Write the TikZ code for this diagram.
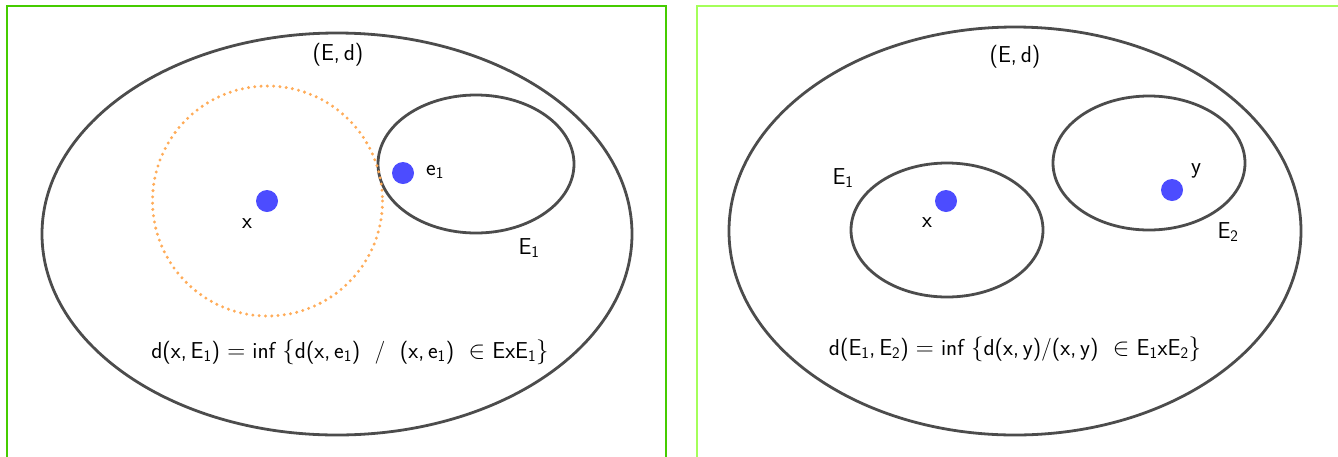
\documentclass[tikz,border=0pt]{standalone}
\usepackage{fontspec}
\begin{document}
\begin{tikzpicture}[x=1pt,y=-1pt,
  frameA/.style={draw=green!55!lime!80!black, line width=1.4pt},
  frameB/.style={draw=green!40!lime!65, line width=1.4pt},
  setline/.style={draw=black!70, line width=2.8pt},
  ball/.style={draw=orange!65, line width=3.3pt, dash pattern=on 0pt off 6.3pt, line cap=round},
  pt/.style={circle, fill=blue!70!white, inner sep=0pt, minimum size=22pt},
  lbl/.style={font=\sffamily\fontsize{23}{26}\selectfont, inner sep=0pt}
]
\useasboundingbox (0,0) rectangle (1338,456);
% frames
\draw[frameA] (7,460) -- (7,6) -- (666,6) -- (666,460);
\draw[frameB] (697,460) -- (697,6) -- (1345,6);
% ---- left panel ----
\draw[setline] (337,234) ellipse [x radius=295, y radius=201];
\draw[setline] (476,164) ellipse [x radius=98, y radius=69];
\draw[ball] (267.5,201) circle [radius=115];
\node[pt] (xL) at (267,201) {};
\node[pt] (e1) at (403,173) {};
\node[lbl] (lx) at (247,224) {x};
\node[lbl] (le1) at (435,172) {e\textsubscript{1}};
\node[lbl] (lE1) at (529,248) {E\textsubscript{1}};
\node[lbl] (lEd) at (338,55) {(E,\,d)};
\node[lbl] (fL) at (350,352) {d(x,\,E\textsubscript{1}) $=$ inf $\{$d(x,\,e\textsubscript{1}) \ / \ (x,\,e\textsubscript{1}) \ $\in$ ExE\textsubscript{1}$\}$};
% ---- right panel ----
\draw[setline] (1015,231) ellipse [x radius=286, y radius=204];
\draw[setline] (947,230) ellipse [x radius=96, y radius=67];
\draw[setline] (1149,163) ellipse [x radius=96, y radius=67];
\node[pt] (xR) at (946,201) {};
\node[pt] (yR) at (1172,190) {};
\node[lbl] (rE1) at (843,178) {E\textsubscript{1}};
\node[lbl] (rx) at (927,223) {x};
\node[lbl] (ry) at (1196,171) {y};
\node[lbl] (rE2) at (1228,232) {E\textsubscript{2}};
\node[lbl] (rEd) at (1015,57) {(E,\,d)};
\node[lbl] (fR) at (1015,349) {d(E\textsubscript{1},\,E\textsubscript{2}) $=$ inf $\{$d(x,\,y)/(x,\,y) \ $\in$ E\textsubscript{1}xE\textsubscript{2}$\}$};
\end{tikzpicture}
\end{document}
